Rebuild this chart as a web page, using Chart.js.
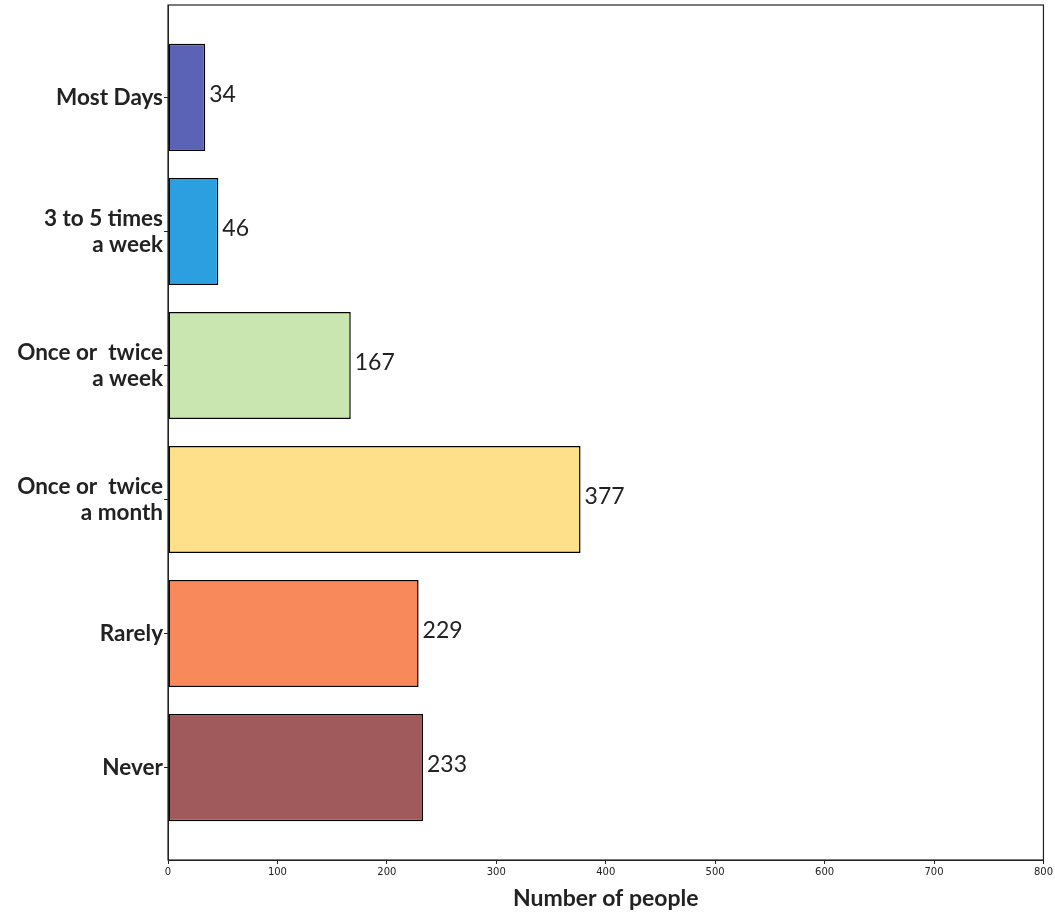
<!DOCTYPE html>
<html>
<head>
<meta charset="utf-8">
<script src="https://cdn.jsdelivr.net/npm/chart.js@4"></script>
<style>
  body { margin: 0; background: #fff; }
  #wrap { width: 1055px; height: 912px; }
</style>
</head>
<body>
<div id="wrap"><canvas id="render" width="1055" height="912"></canvas></div>
<script>
const categories = ['Most Days', '3 to 5 times\na week', 'Once or  twice\na week', 'Once or  twice\na month', 'Rarely', 'Never'];
const counts = [34, 46, 167, 377, 229, 233];
const barColors = ['#5b63b6', '#2c9fe0', '#c9e6b1', '#fee08b', '#f8895b', '#a05a5b'];
const xTicks = [0, 100, 200, 300, 400, 500, 600, 700, 800];

// frame round the plot area
const frame = {
    id: 'frame',
    afterDraw: chart => {
        const a = chart.chartArea;
        const ctx = chart.ctx;
        ctx.save();
        ctx.strokeStyle = '#222';
        ctx.lineWidth = 1.2;
        ctx.strokeRect(a.left, a.top, a.right - a.left, a.bottom - a.top);
        ctx.restore();
    }
};

// numbers at the end of each bar
const valueLabels = {
    id: 'valueLabels',
    afterDatasetsDraw: chart => {
        const ctx = chart.ctx;
        const meta = chart.getDatasetMeta(0);
        ctx.save();
        ctx.font = '23px Lato';
        ctx.fillStyle = '#222';
        ctx.textBaseline = 'middle';
        meta.data.forEach((bar, i) => {
            ctx.fillText(String(counts[i]), bar.x + 4, bar.y - 3);
        });
        ctx.restore();
    }
};

const ctx = document.getElementById('render');
new Chart(ctx, {
    type: 'bar',
    data: {
        datasets: [{
            data: counts.map((v, i) => ({ x: v, y: i })),
            backgroundColor: barColors,
            borderColor: '#000',
            borderWidth: 1.5,
            borderSkipped: false,
            barPercentage: 0.8,
            categoryPercentage: 1.0
        }]
    },
    options: {
        indexAxis: 'y',
        responsive: false,
        animation: false,
        layout: { padding: { top: 5, right: 10, left: 0, bottom: 0 } },
        plugins: {
            legend: { display: false },
            tooltip: { enabled: false }
        },
        scales: {
            x: {
                type: 'linear',
                min: 0,
                max: 800,
                afterBuildTicks: scale => { scale.ticks = xTicks.map(v => ({ value: v })); },
                afterFit: scale => { scale.height = 52; },
                grid: { drawOnChartArea: false, tickLength: 4, color: '#222' },
                border: { display: true, color: '#222' },
                ticks: { color: '#222', font: { size: 10, family: 'DejaVu Sans' }, padding: 2 },
                title: {
                    display: true,
                    text: 'Number of people',
                    color: '#222',
                    font: { size: 23, weight: 'bold', family: 'Lato' },
                    padding: { top: 0, bottom: 0 }
                }
            },
            y: {
                type: 'linear',
                reverse: true,
                offset: false,
                min: -0.69,
                max: 5.69,
                afterBuildTicks: scale => { scale.ticks = categories.map((c, i) => ({ value: i })); },
                afterFit: scale => {
                    scale.width = 168;
                    scale.paddingTop = 0;
                    scale.paddingBottom = 0;
                },
                grid: { drawOnChartArea: false, offset: false, tickLength: 4, color: '#222' },
                border: { display: true, color: '#222' },
                ticks: {
                    color: '#222',
                    padding: 1,
                    font: { size: 22.5, weight: 'bold', family: 'Lato', lineHeight: 1.15 },
                    callback: value => categories[value] !== undefined ? categories[value].split('\n') : ''
                }
            }
        }
    },
    plugins: [frame, valueLabels]
});
</script>
</body>
</html>
